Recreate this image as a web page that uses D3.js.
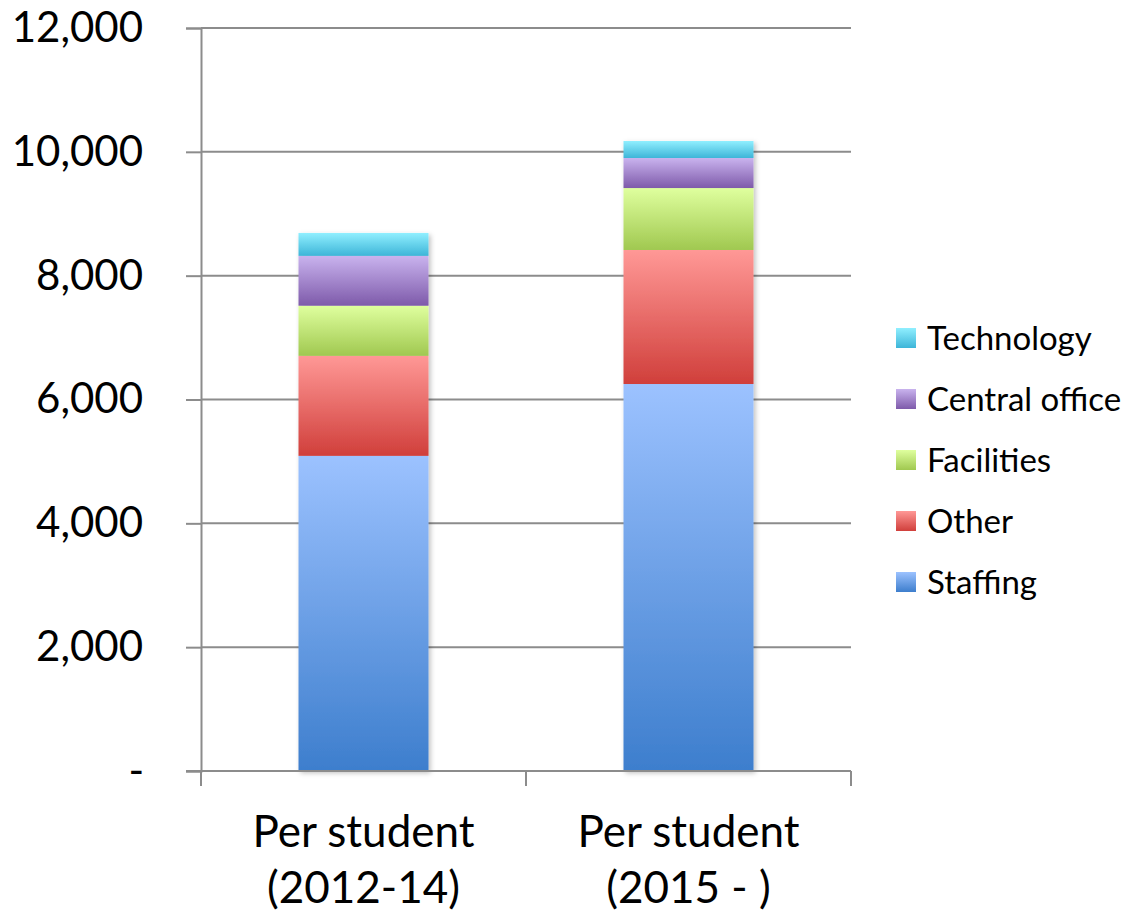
<!DOCTYPE html>
<html>
<head>
<meta charset="utf-8">
<script src="https://cdn.jsdelivr.net/npm/d3@7"></script>
<style>
  body { margin: 0; background: #fff; }
  svg { font-family: Lato, "Open Sans", sans-serif; }
</style>
</head>
<body>
<script>
// données
const CATEGORIES = [['Per student', '(2012-14)'], ['Per student', '(2015 - )']]
const SERIES = ['Staffing', 'Other', 'Facilities', 'Central office', 'Technology']
const STAFFING = [5090, 6250]
const OTHER = [1615, 2165]
const FACILITIES = [810, 1000]
const CENTRAL_OFFICE = [805, 485]
const TECHNOLOGY = [370, 275]
const Y_TICKS = [0, 2000, 4000, 6000, 8000, 10000, 12000]

// couleurs (haut clair, bas foncé)
const COLORS = {
  'Staffing': ['#9cc2ff', '#3d7ecd'],
  'Other': ['#ff9896', '#d03f3b'],
  'Facilities': ['#dfff9e', '#a0c850'],
  'Central office': ['#c9b3ee', '#7e5aaa'],
  'Technology': ['#90efff', '#3db5d8']
}

const WIDTH = 1132
const HEIGHT = 912
const LEFT = 201, RIGHT = 851, TOP = 28, BOTTOM = 771

const rows = CATEGORIES.map((c, i) => ({
  key: i,
  'Staffing': STAFFING[i],
  'Other': OTHER[i],
  'Facilities': FACILITIES[i],
  'Central office': CENTRAL_OFFICE[i],
  'Technology': TECHNOLOGY[i]
}))
const stacked = d3.stack().keys(SERIES)(rows)

const svg = d3.select('body').append('svg')
  .attr('width', WIDTH)
  .attr('height', HEIGHT)

const defs = svg.append('defs')
SERIES.forEach((s, i) => {
  const g = defs.append('linearGradient')
    .attr('id', 'grad' + i)
    .attr('x1', 0).attr('y1', 0).attr('x2', 0).attr('y2', 1)
  g.append('stop').attr('offset', '0%').attr('stop-color', COLORS[s][0])
  g.append('stop').attr('offset', '100%').attr('stop-color', COLORS[s][1])
})
const shadow = defs.append('filter').attr('id', 'shadow')
  .attr('x', '-10%').attr('y', '-5%').attr('width', '125%').attr('height', '115%')
shadow.append('feDropShadow')
  .attr('dx', 2).attr('dy', 2).attr('stdDeviation', 2.5)
  .attr('flood-color', '#000').attr('flood-opacity', 0.25)

const x = d3.scaleBand()
  .domain(d3.range(CATEGORIES.length))
  .range([LEFT, RIGHT])
  .paddingInner(0.6)
  .paddingOuter(0.3)

const y = d3.scaleLinear()
  .domain([0, 12000])
  .range([BOTTOM, TOP])

// grille + axe y
const yAxis = svg.append('g')
  .attr('transform', `translate(${LEFT},0)`)
  .call(d3.axisLeft(y)
    .tickValues(Y_TICKS)
    .tickSize(15)
    .tickFormat(d => d === 0 ? '-' : d3.format(',')(d)))
yAxis.select('.domain').attr('stroke', '#8c8c8c').attr('stroke-width', 2)
yAxis.selectAll('.tick line').attr('stroke', '#8c8c8c').attr('stroke-width', 2)
yAxis.selectAll('.tick text')
  .attr('x', -58)
  .attr('font-size', 42)
  .attr('fill', '#000')
  .attr('font-family', 'Lato, sans-serif')
yAxis.selectAll('.tick').filter(d => d === 0).select('text').attr('x', -57)

svg.append('g').selectAll('line')
  .data(Y_TICKS.filter(d => d !== 0))
  .enter().append('line')
  .attr('x1', LEFT).attr('x2', RIGHT)
  .attr('y1', d => y(d)).attr('y2', d => y(d))
  .attr('stroke', '#8c8c8c').attr('stroke-width', 2)

// barres
const bars = svg.append('g').attr('filter', 'url(#shadow)')
stacked.forEach((layer, i) => {
  bars.selectAll('.s' + i)
    .data(layer)
    .enter().append('rect')
    .attr('x', (d, j) => x(j))
    .attr('width', x.bandwidth())
    .attr('y', d => y(d[1]))
    .attr('height', d => y(d[0]) - y(d[1]))
    .attr('fill', `url(#grad${i})`)
})

// axe x
const step = (RIGHT - LEFT) / CATEGORIES.length
const xAxis = svg.append('g')
svg.append('line')
  .attr('x1', LEFT - 15).attr('x2', RIGHT)
  .attr('y1', BOTTOM).attr('y2', BOTTOM)
  .attr('stroke', '#8c8c8c').attr('stroke-width', 2)
xAxis.selectAll('line')
  .data(d3.range(CATEGORIES.length + 1))
  .enter().append('line')
  .attr('x1', d => LEFT + d * step).attr('x2', d => LEFT + d * step)
  .attr('y1', BOTTOM).attr('y2', BOTTOM + 15)
  .attr('stroke', '#8c8c8c').attr('stroke-width', 2)

const labels = svg.append('g').selectAll('text')
  .data(CATEGORIES)
  .enter().append('text')
  .attr('x', (d, i) => x(i) + x.bandwidth() / 2)
  .attr('y', 847)
  .attr('text-anchor', 'middle')
  .attr('font-size', 44)
  .attr('fill', '#000')
labels.selectAll('tspan')
  .data(d => d)
  .enter().append('tspan')
  .attr('x', function () { return this.parentNode.getAttribute('x') })
  .attr('dy', (d, i) => i === 0 ? 0 : 56)
  .text(d => d)

// légende
const legend = svg.append('g')
  .selectAll('g')
  .data(SERIES.slice().reverse())
  .enter().append('g')
  .attr('transform', (d, i) => `translate(896,${338 + i * 61})`)
legend.append('rect')
  .attr('x', 0).attr('y', -10)
  .attr('width', 20).attr('height', 20)
  .attr('fill', d => `url(#grad${SERIES.indexOf(d)})`)
legend.append('text')
  .attr('x', 31).attr('y', 0)
  .attr('dy', '0.35em')
  .attr('font-size', 33)
  .attr('fill', '#000')
  .text(d => d)
</script>
</body>
</html>
